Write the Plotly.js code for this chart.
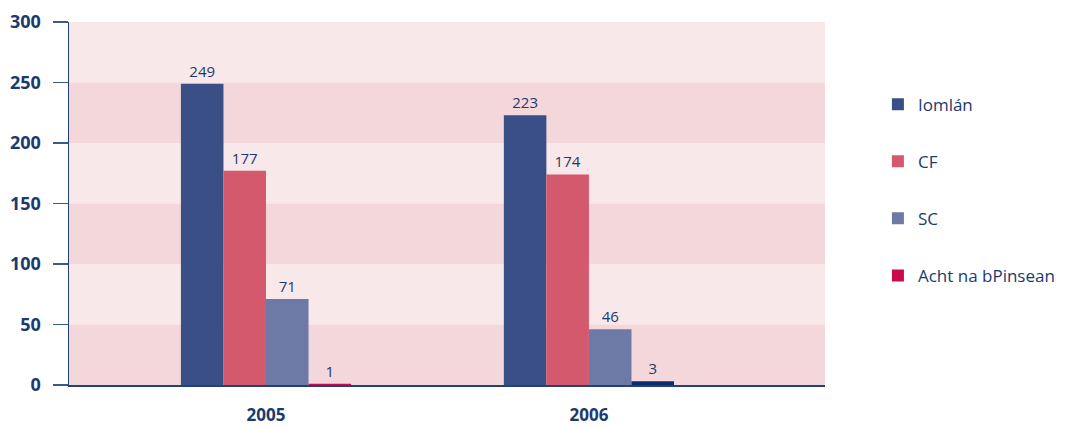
<!DOCTYPE html>
<html>
<head>
<meta charset="utf-8">
<script src="https://cdn.plot.ly/plotly-3.0.1.min.js"></script>
<style>
html,body{margin:0;padding:0;background:#fff;}
#chart{width:1074px;height:428px;}
</style>
</head>
<body>
<div id="chart"></div>
<script>
const years = ['2005', '2006'];
const seriesNames = ['Iomlán', 'CF', 'SC', 'Acht na bPinsean'];
const iomlan = [249, 223];
const cf = [177, 174];
const sc = [71, 46];
const acht = [1, 3];
const yTicks = [0, 50, 100, 150, 200, 250, 300];

const navy = '#1b3a6f';
const colors = ['#3a4f86', '#d4596c', '#6d7aa6', '#c80a4f'];
const achtPointColors = ['#c80a4f', '#0b2c6c'];
const xPos = years.map((_, i) => i);

const allValues = [iomlan, cf, sc, acht];
const traces = allValues.map((vals, k) => ({
  type: 'bar',
  name: seriesNames[k],
  x: xPos,
  y: vals,
  text: vals.map(String),
  textposition: 'outside',
  cliponaxis: false,
  textfont: {family: 'Open Sans, sans-serif', size: 15, color: navy},
  marker: {color: k === 3 ? achtPointColors : colors[k], line: {width: 0}},
  legendgroup: 'g' + k
}));

// Background bands (alternating), derived from tick values
const shapes = [];
for (let i = 0; i < yTicks.length - 1; i++) {
  shapes.push({
    type: 'rect', xref: 'paper', yref: 'y', layer: 'below',
    x0: 0, x1: 1, y0: yTicks[i], y1: yTicks[i + 1],
    fillcolor: i % 2 === 0 ? '#f4d7da' : '#f9e8e9', line: {width: 0}
  });
}

const layout = {
  width: 1074, height: 428,
  margin: {l: 69, r: 249, t: 22, b: 43},
  paper_bgcolor: '#ffffff',
  plot_bgcolor: '#f9e8e9',
  barmode: 'group',
  bargap: 0.473,
  bargroupgap: 0,
  showlegend: true,
  legend: {
    x: 1.07, xanchor: 'left', y: 0.822, yanchor: 'top',
    font: {family: 'Open Sans, sans-serif', size: 17, color: navy},
    tracegroupgap: 32,
    itemwidth: 30,
    bgcolor: 'rgba(0,0,0,0)'
  },
  xaxis: {
    range: [-0.61, 1.731],
    tickvals: xPos, ticktext: years,
    tickfont: {family: 'Open Sans, sans-serif', size: 17, color: navy, weight: 'bold'},
    ticks: '', ticklabelstandoff: 14,
    showgrid: false, zeroline: false,
    showline: true, linecolor: '#22407a', linewidth: 2,
    fixedrange: true
  },
  yaxis: {
    range: [0, 300],
    tickvals: yTicks,
    tickfont: {family: 'Open Sans, sans-serif', size: 18, color: navy, weight: 'bold'},
    ticks: 'outside', ticklen: 15, tickcolor: '#3a5a8c', tickwidth: 1.5,
    ticklabelstandoff: 8,
    showgrid: false, zeroline: false,
    showline: true, linecolor: '#22407a', linewidth: 1.5,
    fixedrange: true
  },
  shapes: shapes
};

Plotly.newPlot('chart', traces, layout, {displayModeBar: false, staticPlot: true});
</script>
</body>
</html>
